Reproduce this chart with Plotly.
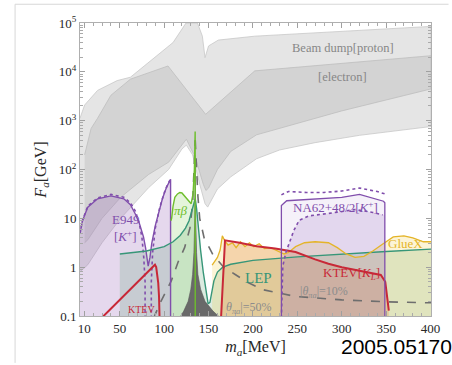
import numpy as np
import plotly.graph_objects as go

# ---------------- data (m_a in MeV, log10 of F_a in GeV) ----------------
proton_up_m = [5.2, 10.4, 25, 47, 62, 91, 110, 124.6, 137.5, 143, 146, 150, 161, 202, 400.5]
proton_up_lf = [3.05, 3.32, 3.62, 3.82, 3.89, 4.33, 4.6, 5.0, 5.0, 4.73, 4.29, 4.53, 4.65, 4.73, 4.93]
proton_lo_m = [400.5, 320, 270, 230, 204, 190, 175, 160, 152, 149, 146, 140, 132, 125, 120, 105, 82.6, 51, 30, 14, 8, 5.2]
proton_lo_lf = [2.88, 2.7, 2.55, 2.4, 2.22, 2.05, 1.85, 1.6, 1.35, 1.23, 1.3, 1.7, 2.3, 2.5, 2.42, 2.0, 1.63, 1.0, 0.5, 0.05, -0.05, -0.1]

electron_up_m = [10.4, 14, 17.7, 25, 40, 62, 104.3, 146.7, 202, 400.5]
electron_up_lf = [2.3, 2.55, 2.84, 3.05, 3.52, 3.85, 4.12, 3.13, 4.02, 4.33]
electron_lo_m = [400.5, 300, 204, 175, 160, 150, 147, 144, 135, 125, 105, 82.6, 51, 30, 14, 10.4]
electron_lo_lf = [3.65, 3.2, 2.71, 2.37, 2.0, 1.62, 1.57, 1.7, 2.25, 2.62, 2.15, 1.9, 1.43, 1.0, 0.56, 0.5]

e949_m = [5.2, 8, 14, 25, 40, 54.6, 62, 67.5, 72, 76.7, 79, 81, 82, 84, 86, 90, 93.3, 98, 102.5, 107.2]
e949_lf = [0.69, 0.95, 1.23, 1.40, 1.46, 1.40, 1.28, 1.09, 0.9, 0.62, 0.4, 0.1, 0.02, 0.2, 0.49, 0.85, 1.09, 1.4, 1.63, 1.8]
e949_dot_l_m = [5.2, 8, 14, 25, 40, 54.6, 62, 67.5, 72, 75, 77, 78.5, 78.5]
e949_dot_l_lf = [0.69, 0.96, 1.25, 1.42, 1.49, 1.43, 1.32, 1.15, 0.9, 0.6, 0.2, -0.3, -1.05]
e949_dot_r_m = [85.5, 85.5, 87, 90, 95, 100, 104, 106.5]
e949_dot_r_lf = [-1.05, -0.3, 0.3, 0.8, 1.22, 1.52, 1.7, 1.78]

lep_m = [50, 80, 100, 110, 118, 124, 128, 131, 133.5, 135, 136.5, 138.5, 141, 144, 147, 149.5, 151.5, 153.5, 156, 160, 166, 175, 200, 250, 300, 350, 400.5]
lep_lf = [0.27, 0.33, 0.42, 0.52, 0.65, 0.8, 0.95, 1.15, 1.35, 1.4, 1.2, 0.8, 0.35, -0.1, -0.5, -0.75, -0.72, -0.5, -0.28, -0.1, 0.0, 0.06, 0.14, 0.21, 0.27, 0.32, 0.37]

pib_m = [107.5, 108.4, 110, 112, 115, 117.6, 120, 123, 127, 130.4, 132.5, 134, 134.9]
pib_lf = [0.95, 1.0, 1.25, 1.43, 1.5, 1.53, 1.52, 1.46, 1.38, 1.30, 1.5, 2.0, 2.78]

pi0_m = [117, 122, 127, 130, 132, 133.5, 134.5, 135, 135.5, 136.5, 138, 141, 146, 155, 164]
pi0_lf = [-1.05, -0.9, -0.7, -0.45, -0.15, 0.3, 1.0, 2.2, 1.0, 0.3, -0.15, -0.45, -0.7, -0.9, -1.05]

theta_l_m = [88, 95, 108, 116, 123, 129, 132, 134, 135]
theta_l_lf = [-1.05, -0.75, -0.28, 0.12, 0.4, 0.8, 1.3, 2.0, 2.6]
theta_r_m = [135, 136.5, 138, 140, 145, 155, 167, 180, 193, 211, 248, 300, 350, 400.5]
theta_r_lf = [2.6, 1.9, 1.45, 1.0, 0.6, 0.25, 0.0, -0.15, -0.3, -0.46, -0.6, -0.67, -0.71, -0.73]

ktev1_m = [29, 89.6, 91, 93.3, 94.2, 94.8]
ktev1_lf = [-1.05, 0.05, 0.0, -0.32, -0.6, -1.05]

ktevl_m = [164, 166, 168.5, 185, 204, 225, 248, 270, 285, 300, 322, 344, 349, 353]
ktevl_lf = [-1.05, -0.3, 0.55, 0.5, 0.43, 0.38, 0.31, 0.16, 0.07, 0.0, -0.08, -0.16, -0.3, -0.89]

gluex_m = [154, 160, 163, 165.5, 168, 172, 177, 181, 186, 191, 196, 201, 207, 213, 220, 228, 235, 240, 248, 258, 270, 285, 295, 305, 315, 325, 335, 345, 358, 370, 380, 392, 400.5]
gluex_lf = [0.04, 0.2, 0.35, 0.64, 0.55, 0.45, 0.5, 0.4, 0.52, 0.42, 0.5, 0.42, 0.48, 0.38, 0.4, 0.33, 0.27, 0.3, 0.42, 0.5, 0.52, 0.5, 0.4, 0.27, 0.2, 0.22, 0.33, 0.46, 0.62, 0.64, 0.6, 0.52, 0.52]

na62_m = [232, 232, 238, 259, 280, 300, 320, 335, 347, 348.5, 348.5]
na62_lf = [-1.05, 1.26, 1.36, 1.38, 1.40, 1.43, 1.49, 1.42, 1.35, 1.32, -1.05]
na62_dot_up_m = [232, 240, 260, 280, 300, 320, 340, 348.5]
na62_dot_up_lf = [1.48, 1.55, 1.53, 1.53, 1.56, 1.62, 1.55, 1.5]
na62_dot_lo_m = [232, 233.6, 237, 241, 246, 252, 263, 289, 315, 335, 346]
na62_dot_lo_lf = [-1.05, 0.02, 0.3, 0.5, 0.75, 0.96, 1.05, 1.11, 1.18, 1.12, 1.07]

x_ticks = [10, 50, 100, 150, 200, 250, 300, 350, 400]
y_ticks = [0.1, 1, 10, 100, 1000, 1e4, 1e5]
y_ticktext = ["0.1", "1", "10", "10<sup>2</sup>", "10<sup>3</sup>", "10<sup>4</sup>", "10<sup>5</sup>"]

BOTTOM = -1.3

def F(lf):
    return list(np.power(10.0, np.array(lf, dtype=float)))

fig = go.Figure()

def fill(xs, lfs, color, line_color=None, width=0):
    fig.add_trace(go.Scatter(x=xs, y=F(lfs), mode="lines", fill="toself", fillcolor=color,
                             line=dict(color=line_color or "rgba(0,0,0,0)", width=width),
                             hoverinfo="skip", showlegend=False))

def line(xs, lfs, color, width=1.6, dash="solid"):
    fig.add_trace(go.Scatter(x=xs, y=F(lfs), mode="lines", line=dict(color=color, width=width, dash=dash),
                             hoverinfo="skip", showlegend=False))

# gray beam dump regions
fill(proton_up_m + proton_lo_m, proton_up_lf + proton_lo_lf, "rgb(229,229,229)", "rgb(200,200,200)", 0.8)
fill(electron_up_m + electron_lo_m, electron_up_lf + electron_lo_lf, "rgb(211,211,211)", "rgb(190,190,190)", 0.8)

PURPLE = "rgb(128,78,172)"
TEAL = "rgb(55,150,120)"
GREEN = "rgb(110,190,45)"
RED = "rgb(200,40,55)"
GOLD = "rgb(228,180,40)"

# colored fills
fill(e949_m + [107.2, 5.2], e949_lf + [BOTTOM, BOTTOM], "rgba(150,100,185,0.25)")
fill([50] + lep_m + [400.5], [BOTTOM] + lep_lf + [BOTTOM], "rgba(95,165,115,0.22)")
fill([107.5] + pib_m + [135, 135], [BOTTOM] + pib_lf + [2.78, BOTTOM], "rgba(130,205,90,0.22)")
fill(ktevl_m + [353], ktevl_lf + [BOTTOM], "rgba(225,115,65,0.28)")
fill([154] + gluex_m + [400.5], [BOTTOM] + gluex_lf + [BOTTOM], "rgba(240,205,70,0.22)")
fill(na62_m, na62_lf, "rgba(160,120,200,0.10)")
fill(na62_dot_lo_m + [348.5, 348.5], na62_dot_lo_lf + [1.07, BOTTOM], "rgba(150,100,190,0.18)")
fill(pi0_m, pi0_lf, "rgb(105,105,105)", "rgb(90,90,90)", 0.6)

# lines
line(theta_l_m, theta_l_lf, "rgb(110,110,110)", 1.6, "dash")
line(theta_r_m, theta_r_lf, "rgb(110,110,110)", 1.6, "dash")
line(e949_m + [107.2, 107.2], e949_lf + [1.8, BOTTOM], PURPLE, 1.4)
line(e949_dot_l_m, e949_dot_l_lf, PURPLE, 1.6, "dot")
line(e949_dot_r_m, e949_dot_r_lf, PURPLE, 1.6, "dot")
line(lep_m, lep_lf, TEAL, 1.4)
line(pib_m + [135, 135], pib_lf + [2.78, BOTTOM], GREEN, 1.4)
line(gluex_m, gluex_lf, GOLD, 1.3)
line(ktev1_m, ktev1_lf, RED, 2.0)
line(ktevl_m, ktevl_lf, RED, 2.0)
line(na62_m, na62_lf, PURPLE, 1.3)
line(na62_dot_up_m, na62_dot_up_lf, PURPLE, 1.6, "dot")
line(na62_dot_lo_m, na62_dot_lo_lf, PURPLE, 1.6, "dot")

SERIF = "Liberation Serif"

def label(x, lf, text, color, size=13):
    fig.add_annotation(x=x, y=lf, text=text, showarrow=False, font=dict(family=SERIF, size=size, color=color))

label(301, 4.49, "Beam dump[proton]", "rgb(135,135,135)", 12.5)
label(301, 3.9, "[electron]", "rgb(135,135,135)", 12.5)
label(57, 0.97, "E949", PURPLE, 13)
label(57, 0.63, "[<i>K</i><sup>+</sup>]", PURPLE, 13)
label(119, 1.16, "<i>πβ</i>", GREEN, 13)
label(292.5, 1.24, "NA62+48/2[<i>K</i><sup>+</sup>]", PURPLE, 13)
label(372, 0.48, "GlueX", GOLD, 13)
label(206, -0.23, "LEP", TEAL, 15)
label(311, -0.12, "KTEV[<i>K<sub>L</sub></i>]", RED, 13)
label(75, -0.87, "KTEV", RED, 10)
label(280, -0.51, "|<i>θ<sub>πa</sub></i>|=10%", "rgb(140,140,140)", 12)
label(195, -0.83, "<i>θ<sub>πa</sub></i>|=50%", "rgb(140,140,140)", 12)

fig.add_annotation(xref="paper", yref="paper", x=0.737, y=-0.105, xanchor="left", yanchor="middle",
                   text="2005.05170", showarrow=False,
                   font=dict(family="Liberation Sans", size=21, color="black"))

# screenshot frame lines
fig.add_shape(type="line", xref="paper", yref="paper", x0=-0.185, x1=1.05, y0=1.064, y1=1.064,
              line=dict(color="rgb(215,215,215)", width=1))
fig.add_shape(type="line", xref="paper", yref="paper", x0=-0.185, x1=-0.185, y0=1.064, y1=-0.16,
              line=dict(color="rgb(215,215,215)", width=1))

minor_y = [k * 10.0 ** e for e in range(-1, 5) for k in range(2, 10)]

fig.update_layout(
    width=452, height=365,
    margin=dict(l=80, r=15, t=23, b=45),
    paper_bgcolor="white", plot_bgcolor="white",
    font=dict(family=SERIF, color="rgb(40,40,40)"),
    xaxis=dict(range=[5.2, 400.5], tickvals=x_ticks, ticks="inside", ticklen=5,
               tickcolor="rgb(160,160,160)", showline=True, linecolor="rgb(175,175,175)", mirror="allticks",
               showgrid=False, zeroline=False, tickfont=dict(family=SERIF, size=13, color="rgb(40,40,40)"),
               minor=dict(dtick=10, tick0=0, ticks="inside", ticklen=3, tickcolor="rgb(170,170,170)"),
               title=dict(text="<i>m<sub>a</sub></i>[MeV]", font=dict(family=SERIF, size=16, color="rgb(40,40,40)"),
                          standoff=6)),
    yaxis=dict(type="log", range=[-1, 5], tickvals=y_ticks, ticktext=y_ticktext, ticks="inside", ticklen=5,
               tickcolor="rgb(160,160,160)", showline=True, linecolor="rgb(175,175,175)", mirror="allticks",
               showgrid=False, zeroline=False, tickfont=dict(family=SERIF, size=13, color="rgb(40,40,40)"),
               minor=dict(tickvals=minor_y, ticks="inside", ticklen=3, tickcolor="rgb(170,170,170)"),
               title=dict(text="<i>F<sub>a</sub></i>[GeV]", font=dict(family=SERIF, size=16, color="rgb(40,40,40)"),
                          standoff=8)),
)

fig.write_html("out.html")
